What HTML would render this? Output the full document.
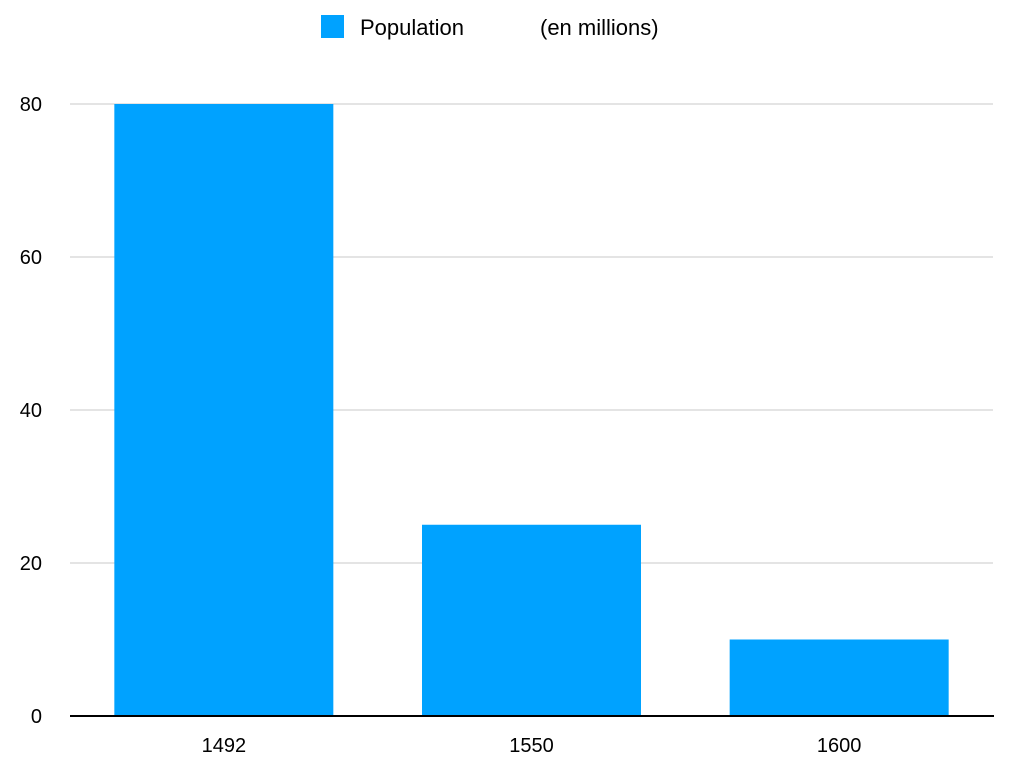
<!DOCTYPE html>
<html><head><meta charset="utf-8"><style>
html,body{margin:0;padding:0;background:#fff;}
svg{display:block;font-family:"Liberation Sans",Arial,sans-serif;}
</style></head><body>
<svg id="chart" width="1024" height="770">
<g id="legend">
<rect x="321" y="15" width="23" height="23" fill="#00a2ff"/>
<text x="360" y="35" font-size="22" fill="#000">Population</text>
<text x="540" y="35" font-size="22" fill="#000">(en millions)</text>
</g>
<g id="grid"></g>
<g id="bars"></g>
<g id="yticks"></g>
<g id="xticks"></g>
<line x1="70" y1="716" x2="994" y2="716" stroke="#000" stroke-width="2"/>
</svg>
<script>
const categories = ["1492", "1550", "1600"];
const values = [80, 25, 10];
const yTicks = [0, 20, 40, 60, 80];

const NS = "http://www.w3.org/2000/svg";
const plotLeft = 70, plotRight = 993, y0 = 716, yTop = 104, yMax = 80;
const band = (plotRight - plotLeft) / categories.length;
const barW = 219;
function yScale(v) { return y0 - (v / yMax) * (y0 - yTop); }
function xCenter(i) { return plotLeft + band * (i + 0.5); }
function mk(tag, attrs, parent) {
  const el = document.createElementNS(NS, tag);
  for (const k in attrs) el.setAttribute(k, attrs[k]);
  parent.appendChild(el);
  return el;
}
const grid = document.getElementById("grid");
const yt = document.getElementById("yticks");
yTicks.forEach(t => {
  const y = yScale(t);
  if (t !== 0) {
    const l = mk("line", {x1: plotLeft, x2: plotRight, y1: y, y2: y, stroke: "#c8c8c8", "stroke-width": 1}, grid);
    
    
  }
  const tx = mk("text", {x: 42, y: y + 7, "font-size": 20, "text-anchor": "end", fill: "#000"}, yt);
  tx.textContent = t;
  
  
});
const bars = document.getElementById("bars");
const xt = document.getElementById("xticks");
categories.forEach((c, i) => {
  const cx = xCenter(i);
  const top = yScale(values[i]);
  const r = mk("rect", {x: cx - barW / 2, y: top, width: barW, height: y0 - top, fill: "#00a2ff"}, bars);
  
  
  const tx = mk("text", {x: cx, y: 752, "font-size": 20, "text-anchor": "middle", fill: "#000"}, xt);
  tx.textContent = c;
  
  
});
</script>
</body></html>
